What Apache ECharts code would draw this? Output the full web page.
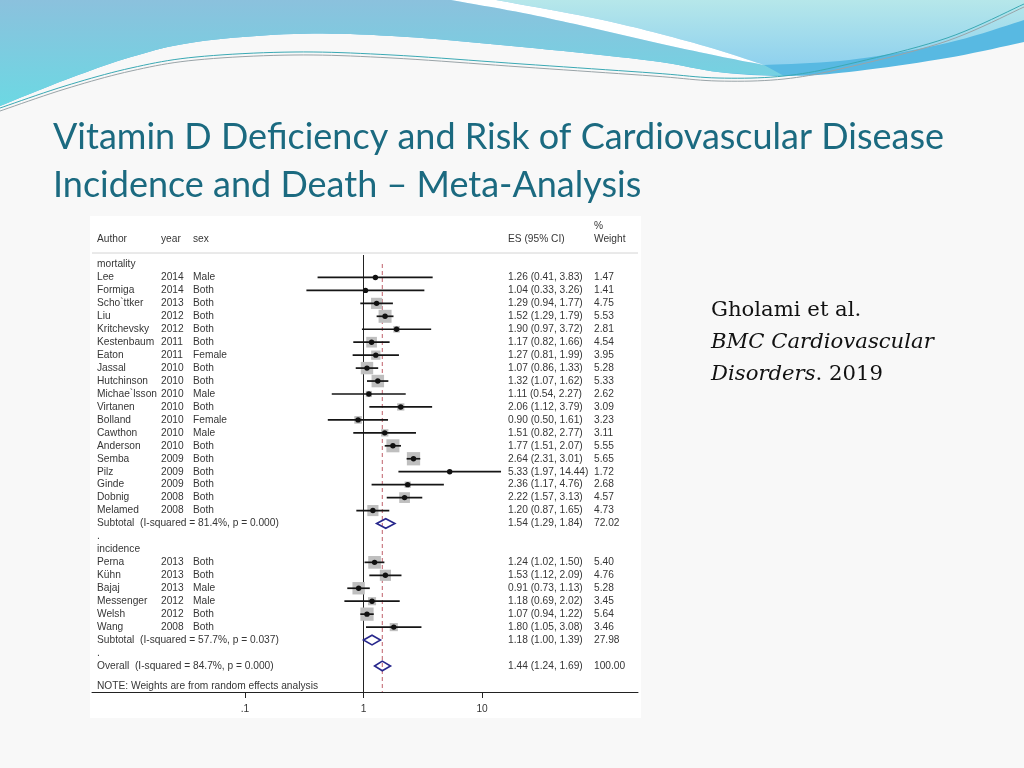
<!DOCTYPE html>
<html><head><meta charset="utf-8">
<script src="https://cdn.jsdelivr.net/npm/echarts@6/dist/echarts.min.js"></script>
<style>html,body{margin:0;padding:0;background:#f8f8f8}#c{width:1024px;height:768px}</style>
</head><body><div id="c"></div>
<script>
// ---------------- data ----------------
const groupNames = ['mortality', 'incidence'];

const mortalityAuthors = ['Lee','Formiga','Scho`ttker','Liu','Kritchevsky','Kestenbaum','Eaton','Jassal','Hutchinson','Michae`lsson','Virtanen','Bolland','Cawthon','Anderson','Semba','Pilz','Ginde','Dobnig','Melamed'];
const mortalityYears = [2014,2014,2013,2012,2012,2011,2011,2010,2010,2010,2010,2010,2010,2010,2009,2009,2009,2008,2008];
const mortalitySex = ['Male','Both','Both','Both','Both','Both','Female','Both','Both','Male','Both','Female','Male','Both','Both','Both','Both','Both','Both'];
const mortalityES = [1.26,1.04,1.29,1.52,1.90,1.17,1.27,1.07,1.32,1.11,2.06,0.90,1.51,1.77,2.64,5.33,2.36,2.22,1.20];
const mortalityLo = [0.41,0.33,0.94,1.29,0.97,0.82,0.81,0.86,1.07,0.54,1.12,0.50,0.82,1.51,2.31,1.97,1.17,1.57,0.87];
const mortalityHi = [3.83,3.26,1.77,1.79,3.72,1.66,1.99,1.33,1.62,2.27,3.79,1.61,2.77,2.07,3.01,14.44,4.76,3.13,1.65];
const mortalityWeight = [1.47,1.41,4.75,5.53,2.81,4.54,3.95,5.28,5.33,2.62,3.09,3.23,3.11,5.55,5.65,1.72,2.68,4.57,4.73];

const incidenceAuthors = ['Perna','Kühn','Bajaj','Messenger','Welsh','Wang'];
const incidenceYears = [2013,2013,2013,2012,2012,2008];
const incidenceSex = ['Both','Both','Male','Male','Both','Both'];
const incidenceES = [1.24,1.53,0.91,1.18,1.07,1.80];
const incidenceLo = [1.02,1.12,0.73,0.69,0.94,1.05];
const incidenceHi = [1.50,2.09,1.13,2.02,1.22,3.08];
const incidenceWeight = [5.40,4.76,5.28,3.45,5.64,3.46];

const subtotalES = [1.54, 1.18];
const subtotalLo = [1.29, 1.00];
const subtotalHi = [1.84, 1.39];
const subtotalWeight = [72.02, 27.98];
const subtotalI2 = [81.4, 57.7];
const subtotalP = [0.000, 0.037];

const overallValues = [1.44, 1.24, 1.69, 100.00]; // ES, lower, upper, weight
const overallI2 = 84.7;
const overallP = 0.000;

const nullValue = 1;
const xTickValues = [0.1, 1, 10];
const xTickLabels = ['.1', '1', '10'];
const noteText = 'NOTE: Weights are from random effects analysis';

// ---------------- build rows ----------------
const groups = [
  {authors: mortalityAuthors, years: mortalityYears, sex: mortalitySex, es: mortalityES, lo: mortalityLo, hi: mortalityHi, w: mortalityWeight},
  {authors: incidenceAuthors, years: incidenceYears, sex: incidenceSex, es: incidenceES, lo: incidenceLo, hi: incidenceHi, w: incidenceWeight}
];
const rows = [];
let r = 0;
groups.forEach((g, gi) => {
  rows.push({row: r++, type: 'header', label: groupNames[gi]});
  g.authors.forEach((a, i) => rows.push({row: r++, type: 'study', label: a, year: g.years[i], sex: g.sex[i], es: g.es[i], lo: g.lo[i], hi: g.hi[i], w: g.w[i]}));
  rows.push({row: r++, type: 'pooled', label: 'Subtotal  (I-squared = ' + subtotalI2[gi].toFixed(1) + '%, p = ' + subtotalP[gi].toFixed(3) + ')',
    es: subtotalES[gi], lo: subtotalLo[gi], hi: subtotalHi[gi], w: subtotalWeight[gi]});
  rows.push({row: r++, type: 'blank', label: '.'});
});
rows.push({row: r++, type: 'pooled', label: 'Overall  (I-squared = ' + overallI2.toFixed(1) + '%, p = ' + overallP.toFixed(3) + ')',
  es: overallValues[0], lo: overallValues[1], hi: overallValues[2], w: overallValues[3]});
const NOTE_ROW = 32.6;
rows.push({row: NOTE_ROW, type: 'note', label: noteText});

const fmt2 = v => v.toFixed(2);
const studies = rows.filter(d => d.type === 'study');
const pooled = rows.filter(d => d.type === 'pooled');

// ---------------- layout constants ----------------
const X_ONE = 363.5, DEC = 118.6;
const PLOT_L = 92, PLOT_R = 638;
const ROW0_Y = 264.5, ROW_STEP = 12.95;
const TOP_Y = 253, AXIS_Y = 692;
const yMin = (TOP_Y - ROW0_Y) / ROW_STEP, yMax = (AXIS_Y - ROW0_Y) / ROW_STEP;
const NULL_TOP = (255 - ROW0_Y) / ROW_STEP, REF_TOP = (264 - ROW0_Y) / ROW_STEP;
const COL = {author: 97, year: 161, sex: 193, es: 508, w: 594};
const FONT = '10.2px "Liberation Sans", Arial, sans-serif';
const TXT = '#363636';

// ---------------- decoration helpers ----------------
function spline(pts, n) {
  n = n || 10; const out = [];
  for (let i = 0; i < pts.length - 1; i++) {
    const p0 = pts[Math.max(i - 1, 0)], p1 = pts[i], p2 = pts[i + 1], p3 = pts[Math.min(i + 2, pts.length - 1)];
    for (let k = 0; k < n; k++) {
      const t = k / n, t2 = t * t, t3 = t2 * t;
      out.push([0, 1].map(j => 0.5 * (2 * p1[j] + (-p0[j] + p2[j]) * t + (2 * p0[j] - 5 * p1[j] + 4 * p2[j] - p3[j]) * t2 + (-p0[j] + 3 * p1[j] - 3 * p2[j] + p3[j]) * t3)));
    }
  }
  out.push(pts[pts.length - 1]);
  return out;
}
const lower = [[0,106],[65,80],[131,57],[196,42],[294,34],[392,36],[522,47],[653,61],[718,72],[784,76],[849,72],[947,58],[1024,42]];
const bandL = [[451,0],[523,13],[588,27],[653,42],[718,56],[764,65]];
const bandR = [[496,0],[588,17],[653,32],[718,50],[764,65]];
const stripeTop = [[764,65],[849,60],[947,43],[1024,20]];
const lowerLeftRev = lower.filter(p => p[0] <= 784).reverse();
const lineA = [[0,108],[65,86],[131,68],[196,57],[294,52],[392,55],[522,64],[653,73],[718,78],[784,76],[849,64],[947,38],[1024,4]];
const lineB = lineA.map(p => [p[0], p[1] + 3]);

const graphics = [
  {type: 'polygon', z: -10, shape: {points: [[0,0]].concat(spline(lower), [[1024,0]])}, style: {fill: '#58b9e2'}},
  {type: 'polygon', z: -9, shape: {points: [[0,0]].concat(spline(bandL), spline(lowerLeftRev))},
    style: {fill: new echarts.graphic.LinearGradient(0, 0, 0, 1, [{offset: 0, color: '#8bc1dd'}, {offset: 1, color: '#6cd8e3'}])}},
  {type: 'polygon', z: -9, shape: {points: [[1024,0]].concat(spline(bandR), spline(stripeTop))},
    style: {fill: new echarts.graphic.LinearGradient(0, 0, 0, 1, [{offset: 0, color: '#b6e7ea'}, {offset: 1, color: '#8fd1ee'}])}},
  {type: 'polygon', z: -8, shape: {points: spline(bandL).concat(spline(bandR).reverse())}, style: {fill: '#ffffff'}},
  {type: 'polyline', z: -7, shape: {points: spline(lineA)}, style: {stroke: '#3aa9b4', lineWidth: 1, fill: null}},
  {type: 'polyline', z: -7, shape: {points: spline(lineB)}, style: {stroke: '#9aa4a8', lineWidth: 1, fill: null}},
  // title
  {type: 'text', x: 53, y: 137, z: 10, style: {text: 'Vitamin D Deficiency and Risk of Cardiovascular Disease', fill: '#1b6a80', font: '36px Lato, "Open Sans", sans-serif', verticalAlign: 'middle'}},
  {type: 'text', x: 53, y: 185, z: 10, style: {text: 'Incidence and Death – Meta-Analysis', fill: '#1b6a80', font: '36px Lato, "Open Sans", sans-serif', verticalAlign: 'middle'}},
  // citation
  {type: 'text', x: 711, y: 310, z: 10, style: {text: 'Gholami et al.', fill: '#111', font: '21.2px "DejaVu Serif", serif', verticalAlign: 'middle'}},
  {type: 'text', x: 711, y: 342, z: 10, style: {text: 'BMC Cardiovascular', fill: '#111', font: 'italic 21.2px "DejaVu Serif", serif', verticalAlign: 'middle'}},
  {type: 'text', x: 711, y: 374, z: 10, style: {rich: {i: {font: 'italic 21.2px "DejaVu Serif", serif', fill: '#111'}, n: {font: '21.2px "DejaVu Serif", serif', fill: '#111'}},
    text: '{i|Disorders}{n|. 2019}', verticalAlign: 'middle'}},
  // plot panel
  {type: 'rect', z: -6, shape: {x: 90, y: 216, width: 551, height: 502}, style: {fill: '#ffffff'}},
  {type: 'line', z: 5, shape: {x1: PLOT_L, y1: TOP_Y, x2: PLOT_R, y2: TOP_Y}, style: {stroke: '#d4d4d4', lineWidth: 1}},
  {type: 'text', x: COL.author, y: 239.5, z: 10, style: {text: 'Author', font: FONT, fill: TXT, verticalAlign: 'middle'}},
  {type: 'text', x: COL.year, y: 239.5, z: 10, style: {text: 'year', font: FONT, fill: TXT, verticalAlign: 'middle'}},
  {type: 'text', x: COL.sex, y: 239.5, z: 10, style: {text: 'sex', font: FONT, fill: TXT, verticalAlign: 'middle'}},
  {type: 'text', x: COL.es, y: 239.5, z: 10, style: {text: 'ES (95% CI)', font: FONT, fill: TXT, verticalAlign: 'middle'}},
  {type: 'text', x: COL.w, y: 226.5, z: 10, style: {text: '%', font: FONT, fill: TXT, verticalAlign: 'middle'}},
  {type: 'text', x: COL.w, y: 239.5, z: 10, style: {text: 'Weight', font: FONT, fill: TXT, verticalAlign: 'middle'}}
];

// ---------------- chart ----------------
const chart = echarts.init(document.getElementById('c'), null, {renderer: 'canvas'});
const txt = (x, y, s) => ({type: 'text', x: x, y: y, style: {text: s, font: FONT, fill: TXT, align: 'left', verticalAlign: 'middle'}});

chart.setOption({
  animation: false,
  backgroundColor: '#f8f8f8',
  graphic: {elements: graphics},
  grid: [
    {left: PLOT_L, width: PLOT_R - PLOT_L, top: TOP_Y, height: AXIS_Y - TOP_Y, containLabel: false},
    {left: X_ONE - DEC, width: 2 * DEC, top: TOP_Y, height: AXIS_Y - TOP_Y, containLabel: false}
  ],
  xAxis: [
    {gridIndex: 0, type: 'log', logBase: 10, position: 'bottom', min: Math.pow(10, (PLOT_L - X_ONE) / DEC), max: Math.pow(10, (PLOT_R - X_ONE) / DEC),
      axisLine: {show: true, onZero: false, lineStyle: {color: '#222', width: 1}}, axisTick: {show: false}, axisLabel: {show: false}, splitLine: {show: false}},
    {gridIndex: 1, type: 'log', logBase: 10, position: 'bottom', min: xTickValues[0], max: xTickValues[xTickValues.length - 1],
      axisLine: {show: false, onZero: false}, splitLine: {show: false},
      axisTick: {show: true, length: 6, lineStyle: {color: '#222', width: 1}},
      axisLabel: {show: true, color: TXT, fontFamily: '"Liberation Sans", Arial, sans-serif', fontSize: 10.2, margin: 12,
        formatter: v => { const i = xTickValues.findIndex(t => Math.abs(t - v) < 1e-9); return i >= 0 ? xTickLabels[i] : ''; }}}
  ],
  yAxis: [
    {gridIndex: 0, type: 'value', inverse: true, min: yMin, max: yMax, show: false},
    {gridIndex: 1, type: 'value', inverse: true, min: yMin, max: yMax, show: false}
  ],
  series: [
    {type: 'line', xAxisIndex: 0, yAxisIndex: 0, z: 1, symbol: 'none', silent: true,
      data: [[nullValue, NULL_TOP], [nullValue, yMax]], lineStyle: {color: '#222', width: 1}},
    {type: 'line', xAxisIndex: 0, yAxisIndex: 0, z: 1, symbol: 'none', silent: true,
      data: [[overallValues[0], REF_TOP], [overallValues[0], yMax]], lineStyle: {color: '#c0606a', width: 1, type: [4, 3]}},
    {type: 'custom', xAxisIndex: 0, yAxisIndex: 0, z: 3, silent: true,
      dimensions: ['es', 'lo', 'hi', 'w', 'row'], encode: {x: [0, 1, 2], y: 4},
      data: studies.map(d => [d.es, d.lo, d.hi, d.w, d.row]),
      renderItem: (params, api) => {
        const es = api.value(0), lo = api.value(1), hi = api.value(2), w = api.value(3), row = api.value(4);
        const c = api.coord([es, row]), pl = api.coord([lo, row]), ph = api.coord([hi, row]);
        const s = 2.35 * w;
        return {type: 'group', children: [
          {type: 'rect', shape: {x: c[0] - s / 2, y: c[1] - s / 2, width: s, height: s}, style: {fill: '#bfbfbf'}},
          {type: 'line', shape: {x1: pl[0], y1: pl[1], x2: ph[0], y2: ph[1]}, style: {stroke: '#151515', lineWidth: 1.7}},
          {type: 'circle', shape: {cx: c[0], cy: c[1], r: 2.7}, style: {fill: '#111'}}
        ]};
      }},
    {type: 'custom', xAxisIndex: 0, yAxisIndex: 0, z: 3, silent: true,
      dimensions: ['es', 'lo', 'hi', 'row'], encode: {x: [0, 1, 2], y: 3},
      data: pooled.map(d => [d.es, d.lo, d.hi, d.row]),
      renderItem: (params, api) => {
        const es = api.value(0), lo = api.value(1), hi = api.value(2), row = api.value(3);
        const c = api.coord([es, row]), pl = api.coord([lo, row]), ph = api.coord([hi, row]);
        const h = 4.8;
        return {type: 'polygon', shape: {points: [[pl[0], c[1]], [c[0], c[1] - h], [ph[0], c[1]], [c[0], c[1] + h]]},
          style: {fill: 'rgba(255,255,255,0)', stroke: '#27278c', lineWidth: 1.6}};
      }},
    {type: 'custom', xAxisIndex: 0, yAxisIndex: 0, z: 4, silent: true,
      dimensions: ['x', 'row'], encode: {y: 1},
      data: rows.map(d => [nullValue, d.row]),
      renderItem: (params, api) => {
        const d = rows[params.dataIndex];
        const y = api.coord([nullValue, api.value(1)])[1];
        const ch = [txt(COL.author, y, d.label)];
        if (d.type === 'study') {
          ch.push(txt(COL.year, y, String(d.year)), txt(COL.sex, y, d.sex));
        }
        if (d.type === 'study' || d.type === 'pooled') {
          ch.push(txt(COL.es, y, fmt2(d.es) + ' (' + fmt2(d.lo) + ', ' + fmt2(d.hi) + ')'), txt(COL.w, y, fmt2(d.w)));
        }
        return {type: 'group', children: ch};
      }}
  ]
});
</script>
</body></html>
